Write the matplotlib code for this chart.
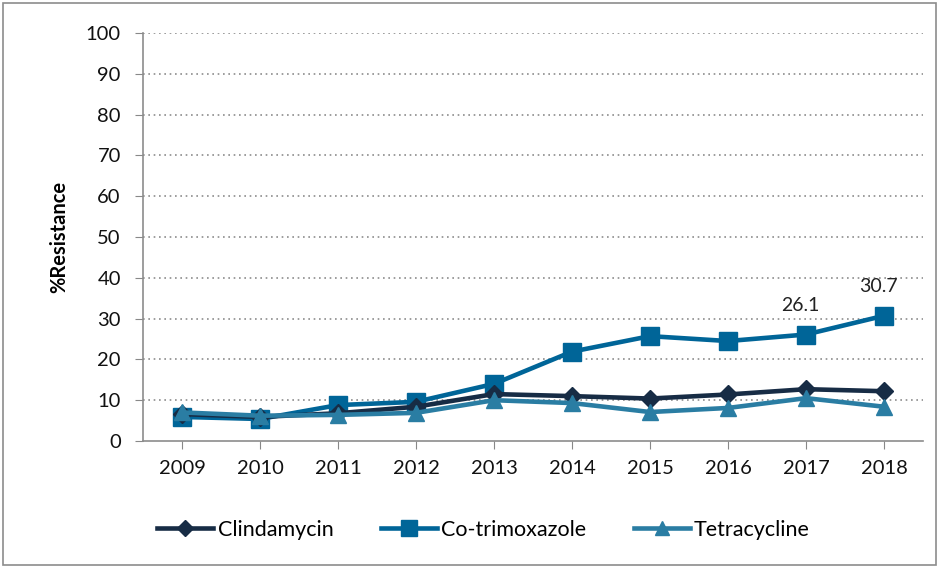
import matplotlib
matplotlib.use("Agg")
from matplotlib import pyplot as plt
from matplotlib.patches import Rectangle

years = ["2009", "2010", "2011", "2012", "2013", "2014", "2015", "2016", "2017", "2018"]
clindamycin = [6.6, 5.9, 6.8, 8.4, 11.5, 11.0, 10.4, 11.4, 12.7, 12.2]
cotrimoxazole = [5.9, 5.4, 8.8, 9.6, 14.0, 21.9, 25.7, 24.5, 26.1, 30.7]
tetracycline = [7.0, 6.2, 6.4, 6.9, 10.0, 9.3, 7.1, 8.1, 10.5, 8.4]
labelled_points = {8: "26.1", 9: "30.7"}

plt.rcParams['font.family'] = ['Lato', 'DejaVu Sans']

fig = plt.figure(figsize=(9.39, 5.68), dpi=100)
ax = fig.add_axes([143 / 939, 1 - 441 / 568, 780 / 939, 408 / 568])

x = list(range(len(years)))
ax.plot(x, clindamycin, color="#172c45", linewidth=3.3, marker="D", markersize=9, label="Clindamycin", zorder=4)
ax.plot(x, cotrimoxazole, color="#006598", linewidth=3.3, marker="s", markersize=13, label="Co-trimoxazole", zorder=3)
ax.plot(x, tetracycline, color="#2a7da3", linewidth=3.3, marker="^", markersize=12, label="Tetracycline", zorder=5)

# data labels on the last two co-trimoxazole points
for i, txt in labelled_points.items():
    ax.annotate(txt, (x[i], cotrimoxazole[i]), xytext=(-4, 15), textcoords="offset points",
                ha="center", va="bottom", fontsize=14, color="#222222")

ax.set_xlim(-0.5, len(years) - 0.5)
ax.set_ylim(0, 100)
ax.set_yticks(range(0, 101, 10))
ax.set_xticks(x)
ax.set_xticklabels(years)
ax.tick_params(axis="both", labelsize=14.5, colors="#888888", labelcolor="#111111", length=6, direction="out")
ax.tick_params(axis="x", pad=8)
ax.tick_params(axis="y", pad=10)

for y in range(10, 101, 10):
    ax.axhline(y, color="#8c8c8c", linestyle=(0, (1, 2.2)), linewidth=1.2, zorder=1)

for side in ["top", "right"]:
    ax.spines[side].set_visible(False)
for side in ["left", "bottom"]:
    ax.spines[side].set_color("#8c8c8c")
    ax.spines[side].set_linewidth(1.2)

ax.set_ylabel("%Resistance", fontsize=14.5, fontweight="bold", labelpad=12)

leg = fig.legend(loc="center", bbox_to_anchor=(0.515, 1 - 530 / 568), ncol=3, frameon=False,
                 fontsize=15.5, handlelength=2.6, columnspacing=2.2, handletextpad=0.2,
                 markerscale=0.85)

# outer grey border of the chart area
fig.patches.append(Rectangle((0.003, 0.005), 0.994, 0.99, transform=fig.transFigure,
                             fill=False, edgecolor="#8c8c8c", linewidth=1.2))

fig.savefig("out.png", dpi=100)
